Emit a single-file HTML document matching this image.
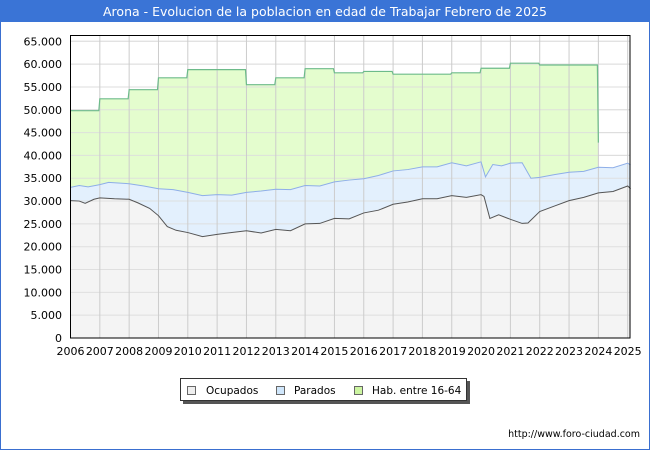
<!DOCTYPE html>
<html><head><meta charset="utf-8"><style>
body{margin:0;background:#fff;}
svg{display:block;font-family:"DejaVu Sans","Liberation Sans",sans-serif;}
</style></head><body>
<svg id="c" width="650" height="450" viewBox="0 0 650 450" xmlns="http://www.w3.org/2000/svg">
<rect x="0.5" y="0.5" width="649" height="449" fill="#fff" stroke="#3a6fd0"/>
<rect x="0" y="0" width="650" height="22" fill="#3a74d6"/>
<text x="325" y="16" fill="#fff" font-size="12.5" text-anchor="middle">Arona - Evolucion de la poblacion en edad de Trabajar Febrero de 2025</text>
<g id="grid"></g><g id="areas"></g><g id="axes"></g>
<g>
<rect x="183" y="381" width="287" height="23" fill="#555"/>
<rect x="180.5" y="378.5" width="286" height="22" fill="#fff" stroke="#333"/>
<rect x="187.5" y="386.5" width="8" height="8" fill="#eee" stroke="#666"/>
<text x="206" y="394" font-size="10.5">Ocupados</text>
<rect x="276.5" y="386.5" width="8" height="8" fill="#cfe6fb" stroke="#666"/>
<text x="294" y="394" font-size="10.5">Parados</text>
<rect x="354.5" y="386.5" width="8" height="8" fill="#ccf5a0" stroke="#666"/>
<text x="372" y="394" font-size="10.5">Hab. entre 16-64</text>
</g>
<text x="640" y="437" font-size="9.5" text-anchor="end">http://www.foro-ciudad.com</text>
</svg>
<script>
const yTicks=[0,5000,10000,15000,20000,25000,30000,35000,40000,45000,50000,55000,60000,65000];
const years=[2006,2007,2008,2009,2010,2011,2012,2013,2014,2015,2016,2017,2018,2019,2020,2021,2022,2023,2024,2025];
const habYears=[2006,2007,2008,2009,2010,2011,2012,2013,2014,2015,2016,2017,2018,2019,2020,2021,2022,2023];
const habValues=[49800,52400,54400,57000,58800,58800,55500,57000,59000,58100,58400,57800,57800,58100,59100,60200,59800,59800];
const habEnd=42800;
const ocuT=[2006,2006.3,2006.5,2006.8,2007,2007.5,2008,2008.3,2008.7,2009,2009.3,2009.6,2010,2010.5,2011,2011.5,2012,2012.5,2013,2013.5,2014,2014.5,2015,2015.5,2016,2016.5,2017,2017.5,2018,2018.5,2019,2019.5,2020,2020.1,2020.3,2020.6,2021,2021.4,2021.6,2022,2022.5,2023,2023.5,2024,2024.5,2025,2025.1];
const ocuV=[30100,30000,29500,30400,30700,30500,30400,29600,28400,26800,24400,23600,23100,22200,22700,23100,23500,23000,23800,23500,25000,25100,26200,26100,27400,28000,29300,29800,30500,30500,31200,30800,31400,31000,26200,27000,26000,25100,25200,27700,28900,30100,30800,31800,32100,33300,32700];
const parT=[2006,2006.3,2006.6,2007,2007.3,2008,2008.5,2009,2009.5,2010,2010.5,2011,2011.5,2012,2012.5,2013,2013.5,2014,2014.5,2015,2015.5,2016,2016.5,2017,2017.5,2018,2018.5,2019,2019.5,2020,2020.15,2020.4,2020.7,2021,2021.4,2021.7,2022,2022.5,2023,2023.5,2024,2024.5,2025,2025.1];
const parV=[33000,33400,33100,33600,34100,33800,33300,32700,32500,31900,31200,31400,31300,31900,32200,32600,32500,33400,33300,34200,34600,34900,35600,36600,36900,37500,37500,38400,37700,38600,35300,38000,37700,38300,38400,35000,35200,35800,36300,36500,37400,37300,38300,37900];
const X0=70.5,X1=627.7,Y0=338,Y1=41.3;
const sx=t=>X0+(t-2006)/(2025-2006)*(X1-X0);
const sy=v=>Y0-(v/65000)*(Y0-Y1);
const NS="http://www.w3.org/2000/svg";
function mk(tag,attrs,parent){const e=document.createElementNS(NS,tag);for(const k in attrs)e.setAttribute(k,attrs[k]);parent.appendChild(e);return e;}
const grid=document.getElementById('grid'),areas=document.getElementById('areas'),axes=document.getElementById('axes');
mk('rect',{x:X0,y:35.5,width:630-X0,height:Y0-35.5,fill:'#fff'},grid);
yTicks.forEach(v=>{const l=mk('line',{x1:X0,x2:630,y1:sy(v),y2:sy(v),stroke:'#ddd'},grid);


const t=mk('text',{x:62,y:sy(v)+4,'font-size':'11','text-anchor':'end'},axes);t.textContent=v===0?'0':v.toLocaleString('de-DE');

});
let hp=`M${sx(2006)},${Y0}`;
habYears.forEach((y,i)=>{hp+=` L${sx(y)},${sy(habValues[i])} L${sx(y+1)-1},${sy(habValues[i])}`;});
hp+=` L${sx(2024)},${sy(habEnd)} L${sx(2024)},${Y0} Z`;
const ha=mk('path',{d:hp,fill:'#e4fdce'},areas);


const hline=habYears.map((y,i)=>`${i?'L':'M'}${sx(y)},${sy(habValues[i])} L${sx(y+1)-1},${sy(habValues[i])}`).join(' ')+` L${sx(2024)},${sy(habEnd)}`;
const pd=parT.map((t,i)=>`${i?'L':'M'}${sx(t)},${sy(parV[i])}`).join(' ');
const pa=mk('path',{d:`M${sx(2006)},${Y0} `+pd.replace(/^M/,'L')+` L${sx(parT[parT.length-1])},${Y0} Z`,fill:'#e3f0fd'},areas);


const od=ocuT.map((t,i)=>`${i?'L':'M'}${sx(t)},${sy(ocuV[i])}`).join(' ');
const oa=mk('path',{d:`M${sx(2006)},${Y0} `+od.replace(/^M/,'L')+` L${sx(ocuT[ocuT.length-1])},${Y0} Z`,fill:'#f4f4f4'},areas);


yTicks.forEach(v=>{mk('line',{x1:X0,x2:630,y1:sy(v),y2:sy(v),stroke:'#ddd','stroke-opacity':'0.9'},areas);});
years.forEach(y=>{const l=mk('line',{x1:sx(y),x2:sx(y),y1:35.5,y2:Y0,stroke:'#ccc'},areas);


const t=mk('text',{x:sx(y),y:355,'font-size':'11','text-anchor':'middle'},axes);t.textContent=y;

});
const l1=mk('path',{d:hline,fill:'none',stroke:'#6dbb8a','stroke-width':1.2},areas);


const l2=mk('path',{d:pd,fill:'none',stroke:'#8eaee8','stroke-width':1},areas);


const l3=mk('path',{d:od,fill:'none',stroke:'#555','stroke-width':1},areas);


const fr=mk('rect',{x:X0,y:35.5,width:630-X0,height:Y0-35.5,fill:'none',stroke:'#000'},axes);


</script>
</body></html>
